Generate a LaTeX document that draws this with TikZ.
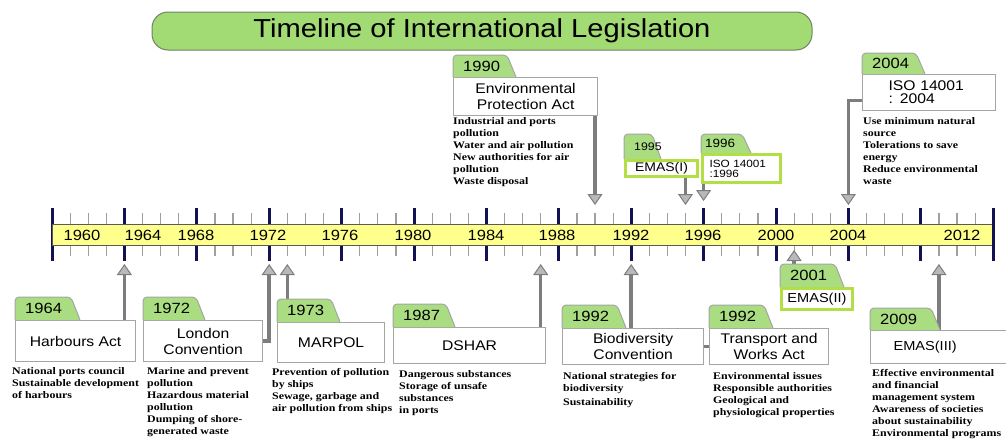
\documentclass[tikz,border=0pt]{standalone}
\usepackage{fontspec}
\setmainfont{Liberation Serif}
\setsansfont{Liberation Sans}[FakeStretch=1.12]
\newfontfamily\descfont{Liberation Serif}[FakeStretch=1.18]
\usepackage{tikz}
\usetikzlibrary{arrows.meta,positioning}

\definecolor{tabgreen}{RGB}{170,221,130}
\definecolor{titlegreen}{RGB}{162,218,115}
\definecolor{titleedge}{RGB}{110,130,100}
\definecolor{baryellow}{RGB}{255,255,140}
\definecolor{ticknavy}{RGB}{18,18,82}
\definecolor{linkgray}{RGB}{125,125,125}
\definecolor{boxgray}{RGB}{165,165,165}
\definecolor{limeedge}{RGB}{178,222,70}

\tikzset{
	titlebox/.style={draw=titleedge, line width=1pt, fill=titlegreen, rounded corners=16pt,
		minimum width=660pt, minimum height=38pt, inner sep=0pt,
		font=\sffamily\fontsize{26}{30}\selectfont},
	minortick/.style={draw=gray!75, line width=1.2pt},
	majortick/.style={draw=ticknavy, line width=3pt},
	bar/.style={draw=gray!70!black, line width=1pt, fill=baryellow},
	baryear/.style={font=\sffamily\fontsize{14.8}{15}\selectfont, inner sep=0pt},
	legbox/.style={draw=boxgray, line width=1.2pt, fill=white, anchor=north west, inner sep=0pt,
		align=center, font=\sffamily\fontsize{14}{16}\selectfont},
	limebox/.style={draw=limeedge, line width=3pt, fill=white, anchor=north west, inner sep=0pt,
		align=center, font=\sffamily\fontsize{13}{13}\selectfont},
	yeartab/.style={draw=boxgray, line width=1pt, fill=tabgreen, rounded corners=4pt},
	yeartxt/.style={anchor=west, inner sep=0pt, font=\sffamily\fontsize{14.8}{15}\selectfont},
	desc/.style={anchor=north west, inner sep=0pt, align=left,
		font=\descfont\bfseries\fontsize{10.1}{12}\selectfont},
	link/.style={draw=linkgray, line width=3.5pt},
	linkarrow/.style={link, -{Triangle[width=15pt,length=11pt,line width=1pt,fill=gray!55]}}
}

% green tab with the year above a box
\newcommand{\yeartab}[5][]{%
	\draw[yeartab] (#2.north west) -- ++(0,-#4) -- ++(#3-9,0) -- ++(9,#4);
	\node[yeartxt,#1] (#2-yr) at ([shift={(10,-#4/2)}]#2.north west) {#5};
}

\begin{document}
\begin{tikzpicture}[x=1pt,y=-1pt]
	\useasboundingbox (0,0) rectangle (1006,439);

	\node[titlebox] (title) at (482,31) {Timeline of International Legislation};

	% time axis
	\foreach \i in {0,...,52}
		\draw[minortick] (52+18.1*\i,213) -- (52+18.1*\i,256);
	\foreach \i in {0,4,...,52}
		\draw[majortick] (52+18.1*\i,208) -- (52+18.1*\i,261);
	\draw[bar] (52,224) rectangle (993,245);
	\draw[majortick] (993,208) -- (993,261);
	\foreach \yr/\xx in {1960/82,1964/143,1968/196,1972/268,1976/340,1980/413,1984/486,
		1988/557,1992/631,1996/703,2000/776,2004/848,2012/962}
		\node[baryear] (y\yr) at (\xx,235) {\yr};

	\coordinate (tip1964) at (124.4,264);
	\coordinate (tip1972) at (269.2,264);
	\coordinate (tip1973) at (287.3,264);
	\coordinate (tip1987) at (540.7,264);
	\coordinate (tip1990) at (595,205);
	\coordinate (tip1992) at (631.2,264);
	\coordinate (tip1995) at (685.5,205);
	\coordinate (tip1996) at (703.6,201);
	\coordinate (tip2001) at (794.1,250);
	\coordinate (tip2004) at (848.4,205);
	\coordinate (tip2009) at (938.9,264);

	% boxes
	\node[legbox, minimum width=120pt, minimum height=41pt] (harb) at (15,320) {Harbours Act};
	\node[legbox, minimum width=119pt, minimum height=41pt] (lond) at (143,320) {London\\Convention};
	\node[legbox, minimum width=107pt, minimum height=40pt] (marp) at (277,322) {MARPOL};
	\node[legbox, minimum width=152pt, minimum height=36pt] (dshar) at (393,327) {DSHAR};
	\node[legbox, minimum width=141pt, minimum height=36pt] (bio) at (562,328) {Biodiversity\\Convention};
	\node[legbox, minimum width=119pt, minimum height=36pt, font=\sffamily\fontsize{14}{15.5}\selectfont]
		(trans) at (709,328) {Transport and\\Works Act};
	\node[legbox, minimum height=33pt, text width=94pt, inner xsep=23pt, align=left,
		font=\sffamily\fontsize{13}{15}\selectfont] (emas3) at (870,330) {EMAS(III)};
	\node[legbox, minimum width=144pt, minimum height=38pt] (epa) at (453,77) {Environmental\\Protection Act};
	\node[legbox, minimum height=36pt, text width=81pt, inner xsep=26pt, align=left,
		font=\sffamily\fontsize{14}{13}\selectfont] (iso04) at (862,74) {ISO 14001\\: 2004};
	\node[limebox, minimum width=71pt, minimum height=21pt] (emas2) at (780,287) {EMAS(II)};
	\node[limebox, minimum width=72pt, minimum height=16pt, font=\sffamily\fontsize{12.5}{13}\selectfont]
		(emas1) at (624,159) {EMAS(I)};
	\node[limebox, minimum height=28pt, text width=64pt, inner xsep=7pt, align=left,
		font=\sffamily\fontsize{10.5}{10}\selectfont] (iso96) at (701,153) {ISO 14001\\:1996};

	% connectors
	\draw[linkarrow] (harb.north -| tip1964) -- (tip1964);
	\draw[linkarrow] (lond.east) -| (tip1972);
	\draw[linkarrow] (marp.north -| tip1973) -- (tip1973);
	\draw[linkarrow] (dshar.north -| tip1987) -- (tip1987);
	\draw[linkarrow] (bio.north -| tip1992) -- (tip1992);
	\draw[link] (bio.east) -- (trans.west);
	\draw[linkarrow] (emas2.north -| tip2001) -- (tip2001);
	\draw[linkarrow] (emas3.north -| tip2009) -- (tip2009);
	\draw[linkarrow] (epa.south -| tip1990) -- (tip1990);
	\draw[linkarrow] (emas1.south -| tip1995) -- (tip1995);
	\draw[linkarrow] (iso96.south -| tip1996) -- (tip1996);
	\draw[linkarrow] ([yshift=-8pt]iso04.west) -| (tip2004);

	% year tabs
	\yeartab{harb}{65}{23}{1964}
	\yeartab{lond}{62}{23}{1972}
	\yeartab{marp}{63}{23}{1973}
	\yeartab{dshar}{62}{23}{1987}
	\yeartab{bio}{64}{23}{1992}
	\yeartab{trans}{64}{23}{1992}
	\yeartab{emas2}{64}{23}{2001}
	\yeartab{emas3}{70}{22}{2009}
	\yeartab{epa}{63}{22}{1990}
	\yeartab{iso04}{63}{21}{2004}
	\yeartab[font=\sffamily\fontsize{11}{11}\selectfont]{emas1}{37}{25}{1995}
	\yeartab[font=\sffamily\fontsize{12}{12}\selectfont, xshift=-6pt]{iso96}{50}{19}{1996}

	% descriptions
	\node[desc] (harb-d) at (12,367) {National ports council\\Sustainable development\\of harbours};
	\node[desc] (lond-d) at (147,367) {Marine and prevent\\pollution\\Hazardous material\\pollution\\Dumping of shore-\\generated waste};
	\node[desc] (marp-d) at (272,368) {Prevention of pollution\\by ships\\Sewage, garbage and\\air pollution from ships};
	\node[desc] (dshar-d) at (399,370) {Dangerous substances\\Storage of unsafe\\substances\\in ports};
	\node[desc] (bio-d) at (563,372) {National strategies for\\biodiversity\\[2pt]Sustainability};
	\node[desc] (trans-d) at (713,372) {Environmental issues\\Responsible authorities\\Geological and\\physiological properties};
	\node[desc] (emas3-d) at (872,369) {Effective environmental\\and financial\\management system\\Awareness of societies\\about sustainability\\Environmental programs};
	\node[desc] (epa-d) at (453,117) {Industrial and ports\\pollution\\Water and air pollution\\New authorities for air\\pollution\\Waste disposal};
	\node[desc] (iso04-d) at (863,117) {Use minimum natural\\source\\Tolerations to save\\energy\\Reduce environmental\\waste};
\end{tikzpicture}
\end{document}
